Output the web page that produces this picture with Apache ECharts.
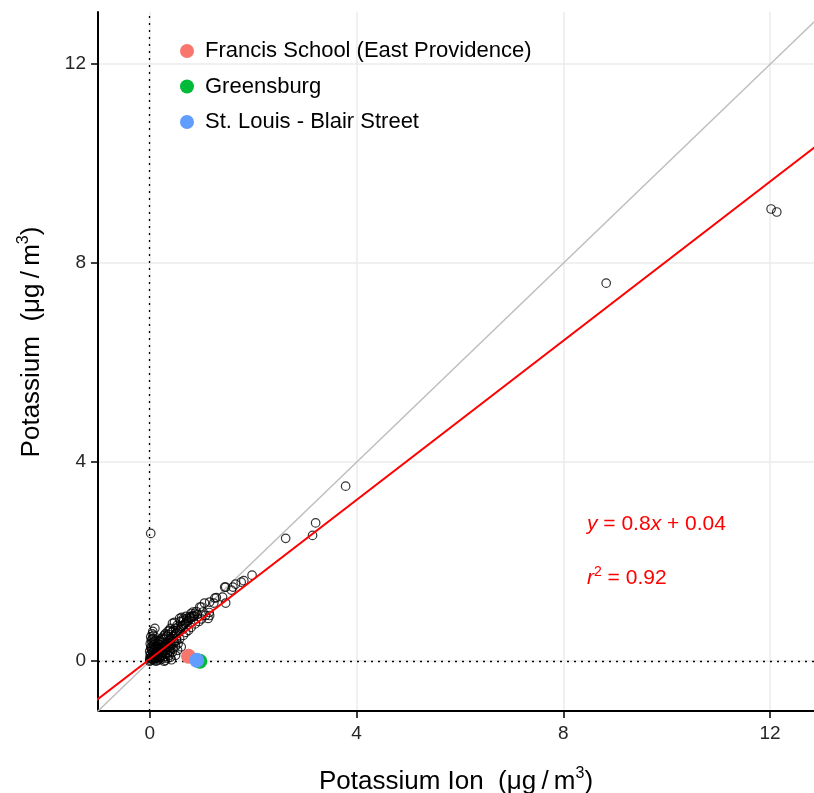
<!DOCTYPE html>
<html>
<head>
<meta charset="utf-8">
<script src="https://cdn.jsdelivr.net/npm/echarts@6/dist/echarts.min.js"></script>
<style>html,body{margin:0;padding:0;background:#fff}#c{width:814px;height:793px}</style>
</head>
<body>
<div id="c"></div>
<script>
// Tick values
const xTicks = [0, 4, 8, 12];
const yTicks = [0, 4, 8, 12];
// Black open-circle observations: potassium ion (x) vs potassium (y)
const obsX = [0.00,0.01,0.00,0.02,0.01,0.03,0.02,0.05,0.04,0.06,0.03,0.00,0.01,0.05,0.07,0.04,0.08,0.10,0.06,0.02,
  0.05,0.08,0.10,0.12,0.15,0.18,0.20,0.22,0.25,0.28,0.30,0.32,0.35,0.38,0.40,0.42,0.45,0.48,0.50,0.52,0.55,0.58,0.60,0.62,0.65,0.68,0.70,0.72,0.75,0.78,0.80,0.82,0.85,
  0.10,0.12,0.15,0.18,0.20,0.22,0.25,0.28,0.30,0.35,0.38,0.40,0.44,0.48,0.55,0.58,0.62,0.65,0.70,0.77,0.84,0.90,0.97,1.03,1.06,1.13,1.24,1.29,1.47,1.47,1.58,1.61,1.66,1.77,1.82,1.98,1.45,1.41,1.26,1.16,1.00,0.87,1.16,
  0.10,0.15,0.20,0.25,0.30,0.35,0.40,0.45,0.50,0.55,0.61,0.15,0.20,0.25,0.30,0.35,0.40,0.42,0.28,0.12,0.18,0.22,0.32,0.38,0.42,0.48,0.52,0.58,0.65,0.70,0.75,0.80,0.88,0.95,1.00,1.08,1.15,
  0.02,0.04,0.06,0.08,0.10,0.12,0.14,0.16,0.18,0.20,0.22,0.24,0.26,0.28,0.30,0.32,0.34,0.36,0.38,0.40,0.44,0.46,0.50,0.52,0.54,0.03,0.05,0.08,0.12,0.14,0.16,0.20,0.24,0.26,0.30,0.33,0.36,0.42,0.46,0.50,0.53,0.60,0.66,0.72,0.80,0.86,0.92,0.11,0.07,0.09,
  2.63,3.15,3.21,3.79,8.83,12.02,12.13,0.02];
const obsY = [0.05,0.12,0.20,0.28,0.35,0.42,0.49,0.55,0.30,0.18,0.08,0.00,0.02,0.38,0.46,0.22,0.33,0.66,0.60,0.15,
  0.05,0.10,0.12,0.15,0.18,0.20,0.24,0.26,0.28,0.30,0.33,0.36,0.38,0.42,0.44,0.46,0.50,0.52,0.55,0.58,0.60,0.62,0.66,0.70,0.72,0.75,0.78,0.80,0.82,0.86,0.88,0.90,0.92,
  0.25,0.30,0.35,0.40,0.42,0.45,0.48,0.52,0.55,0.60,0.62,0.66,0.76,0.78,0.69,0.86,0.88,0.85,0.90,0.89,0.99,1.00,1.09,0.99,1.17,0.86,1.17,1.28,1.49,1.17,1.43,1.49,1.55,1.59,1.62,1.73,1.49,1.29,1.27,1.19,1.09,0.96,0.92,
  0.05,0.08,0.10,0.12,0.15,0.18,0.20,0.25,0.30,0.35,0.29,0.02,0.03,0.05,0.02,0.06,0.08,0.03,0.00,0.00,0.12,0.16,0.22,0.28,0.32,0.38,0.42,0.45,0.52,0.58,0.62,0.68,0.75,0.80,0.85,0.92,0.98,
  0.06,0.10,0.04,0.02,0.08,0.06,0.12,0.10,0.06,0.16,0.08,0.20,0.16,0.22,0.10,0.28,0.14,0.30,0.12,0.36,0.18,0.40,0.12,0.46,0.22,0.25,0.45,0.52,0.42,0.22,0.28,0.34,0.38,0.44,0.46,0.50,0.54,0.58,0.62,0.66,0.72,0.80,0.82,0.86,0.96,0.90,0.94,0.18,0.26,0.40,
  2.47,2.53,2.78,3.52,7.60,9.09,9.03,2.57];
// Highlighted sites
const siteNames = ['Francis School (East Providence)', 'Greensburg', 'St. Louis - Blair Street'];
const siteX = [0.75, 0.97, 0.91];
const siteY = [0.10, 0.00, 0.02];
const siteColors = ['#F8766D', '#00BA38', '#619CFF'];
// Regression fit
const slope = 0.8, intercept = 0.04;
const lineXs = [-1.5, 13.5];

const chart = echarts.init(document.getElementById('c'));
const font = 'Liberation Sans, Arial, sans-serif';
const obs = obsX.map((x, i) => [x, obsY[i]]);
const ts = '\u2009';

const series = [
  { type: 'line', data: lineXs.map(x => [x, x]), symbol: 'none', silent: true,
    lineStyle: { color: '#bebebe', width: 1.5 }, z: 2,
    markLine: { silent: true, symbol: 'none', label: { show: false },
      lineStyle: { color: '#000', type: [2, 5], width: 1.3 },
      data: [{ xAxis: 0 }, { yAxis: 0 }] } },
  { type: 'scatter', data: obs, symbol: 'circle', symbolSize: 8.5, z: 3,
    itemStyle: { color: 'rgba(0,0,0,0)', borderColor: '#000', borderWidth: 1.2 } },
  { type: 'line', data: lineXs.map(x => [x, slope * x + intercept]), symbol: 'none', silent: true,
    lineStyle: { color: '#ff0000', width: 2 }, z: 4 }
];
siteNames.forEach((n, i) => {
  series.push({ type: 'scatter', name: n, data: [[siteX[i], siteY[i]]], symbolSize: 15, z: 5,
    itemStyle: { color: siteColors[i], opacity: 1 } });
});

const titleRich = { t: { fontFamily: font, fontSize: 26, color: '#000', fill: '#000' },
  s: { fontFamily: font, fontSize: 16, color: '#000', fill: '#000', verticalAlign: 'top', padding: [0,0,16,0] } };

chart.setOption({
  animation: false,
  grid: { left: 98, right: 0, top: 12, bottom: 82, containLabel: false, outerBoundsMode: 'none' },
  legend: {
    data: siteNames, orient: 'vertical', left: 175, top: 35, itemGap: 13.5,
    icon: 'circle', itemWidth: 14, itemHeight: 14,
    textStyle: { fontFamily: font, fontSize: 22, lineHeight: 22, color: '#000', padding: [0, 0, 0, 6] }
  },
  xAxis: {
    type: 'value', min: -1, max: 12.85,
    axisLine: { show: true, onZero: false, lineStyle: { color: '#000', width: 2 } },
    axisTick: { show: true, length: 7, customValues: xTicks, lineStyle: { color: '#000', width: 1.5 } },
    axisLabel: { customValues: xTicks, fontFamily: font, fontSize: 19, color: '#262626', margin: 13 },
    splitLine: { show: true, lineStyle: { color: '#ebebeb', width: 1.5 } },
    name: '{t|Potassium Ion  (μg' + ts + '/' + ts + 'm}{s|3}{t|)}', nameLocation: 'middle', nameGap: 55,
    nameTextStyle: { rich: titleRich }
  },
  yAxis: {
    type: 'value', min: -1, max: 13.05,
    axisLine: { show: true, onZero: false, lineStyle: { color: '#000', width: 2 } },
    axisTick: { show: true, length: 7, customValues: yTicks, lineStyle: { color: '#000', width: 1.5 } },
    axisLabel: { customValues: yTicks, fontFamily: font, fontSize: 19, color: '#262626', margin: 12 },
    splitLine: { show: true, lineStyle: { color: '#ebebeb', width: 1.5 } }
  },
  graphic: [
    { type: 'text', x: 32, y: 342, rotation: Math.PI / 2,
      style: { text: '{t|Potassium  (μg' + ts + '/' + ts + 'm}{s|3}{t|)}', align: 'center', verticalAlign: 'middle', rich: titleRich } },
    { type: 'text', left: 587, top: 514, style: { text: '{i|y} = 0.8{i|x} + 0.04', fontFamily: font, fontSize: 21, fill: '#ff0000',
      rich: { i: { fontStyle: 'italic', fontFamily: font, fontSize: 21, fill: '#ff0000' } } } },
    { type: 'text', left: 587, top: 565, style: { text: '{i|r}{s|2} = 0.92', fontFamily: font, fontSize: 21, fill: '#ff0000',
      rich: { i: { fontStyle: 'italic', fontFamily: font, fontSize: 21, fill: '#ff0000' },
              s: { fontFamily: font, fontSize: 14, fill: '#ff0000', verticalAlign: 'top', padding: [0,0,12,0] } } } }
  ],
  series: series
});
</script>
</body>
</html>
